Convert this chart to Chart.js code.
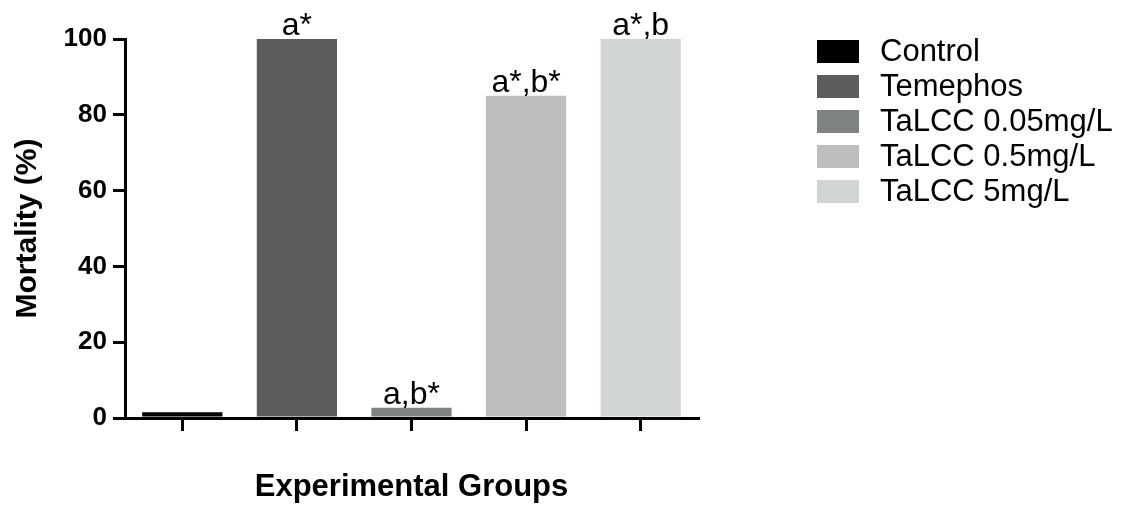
<!DOCTYPE html>
<html>
<head>
<meta charset="utf-8">
<script src="https://cdn.jsdelivr.net/npm/chart.js@4.4.1/dist/chart.umd.min.js"></script>
<style>
  html, body { margin: 0; padding: 0; background: #fff; }
  #wrap { width: 1138px; height: 508px; }
</style>
</head>
<body>
<div id="wrap"><canvas id="chart"></canvas></div>
<script>
// data
const groups = ['Control', 'Temephos', 'TaLCC 0.05mg/L', 'TaLCC 0.5mg/L', 'TaLCC 5mg/L'];
const mortality = [1.5, 100, 2.7, 85, 100];
const sigLabels = ['', 'a*', 'a,b*', 'a*,b*', 'a*,b'];
const barColors = ['#000000', '#5b5c5e', '#7f8282', '#bdbebd', '#d1d4d5'];
const yTicks = [0, 20, 40, 60, 80, 100];

const FONT = '"Liberation Sans", Arial, Helvetica, sans-serif';

// letters above the bars
const sigPlugin = {
    id: 'sigLabels',
    afterDatasetsDraw(chart) {
        const ctx = chart.ctx;
        const meta = chart.getDatasetMeta(0);
        ctx.save();
        ctx.font = '32px ' + FONT;
        ctx.fillStyle = '#000';
        ctx.textAlign = 'center';
        ctx.textBaseline = 'alphabetic';
        meta.data.forEach((bar, i) => {
            if (sigLabels[i]) ctx.fillText(sigLabels[i], bar.x, bar.y - 4);
        });
        ctx.restore();
    }
};

// legend on the right, one row per group
const legendPlugin = {
    id: 'sideLegend',
    afterDraw(chart) {
        const ctx = chart.ctx;
        const x0 = chart.chartArea.right + 119;
        ctx.save();
        ctx.font = '31px ' + FONT;
        ctx.textBaseline = 'middle';
        groups.forEach((g, i) => {
            const cy = 51.5 + i * 35;
            ctx.fillStyle = barColors[i];
            ctx.fillRect(x0, cy - 11.5, 42, 23);
            ctx.fillStyle = '#000';
            ctx.fillText(g, x0 + 63, cy + 1);
        });
        ctx.restore();
    }
};

const ctx = document.getElementById('chart').getContext('2d');
const myChart = new Chart(ctx, {
    type: 'bar',
    data: {
        labels: groups,
        datasets: [{
            label: 'Mortality',
            data: mortality,
            backgroundColor: barColors,
            borderWidth: 0,
            categoryPercentage: 1,
            barPercentage: 0.7
        }]
    },
    options: {
        responsive: true,
        maintainAspectRatio: false,
        animation: false,
        layout: { padding: { top: 39, right: 440, left: 0, bottom: 0 } },
        plugins: {
            legend: { display: false },
            tooltip: { enabled: false }
        },
        scales: {
            x: {
                grid: {
                    offset: false,
                    drawOnChartArea: false,
                    drawTicks: true,
                    tickLength: 13,
                    color: '#000',
                    lineWidth: 3
                },
                border: { color: '#000', width: 3 },
                ticks: { display: false },
                title: {
                    display: true,
                    text: 'Experimental Groups',
                    color: '#000',
                    font: { family: FONT, size: 31, weight: 'bold' },
                    padding: { top: 0, bottom: 2 }
                },
                afterFit(scale) { scale.height = 90; }
            },
            y: {
                min: 0,
                max: 100,
                afterBuildTicks(scale) { scale.ticks = yTicks.map(v => ({ value: v })); },
                grid: {
                    drawOnChartArea: false,
                    drawTicks: true,
                    tickLength: 12,
                    color: '#000',
                    lineWidth: 3
                },
                border: { color: '#000', width: 3 },
                ticks: {
                    color: '#000',
                    padding: 6,
                    font: { family: FONT, size: 26, weight: 'bold' }
                },
                title: {
                    display: true,
                    text: 'Mortality (%)',
                    color: '#000',
                    font: { family: FONT, size: 30, weight: 'bold' },
                    padding: { top: 10, bottom: 0 }
                },
                afterFit(scale) { scale.width = 125; }
            }
        }
    },
    plugins: [sigPlugin, legendPlugin]
});
</script>
</body>
</html>
